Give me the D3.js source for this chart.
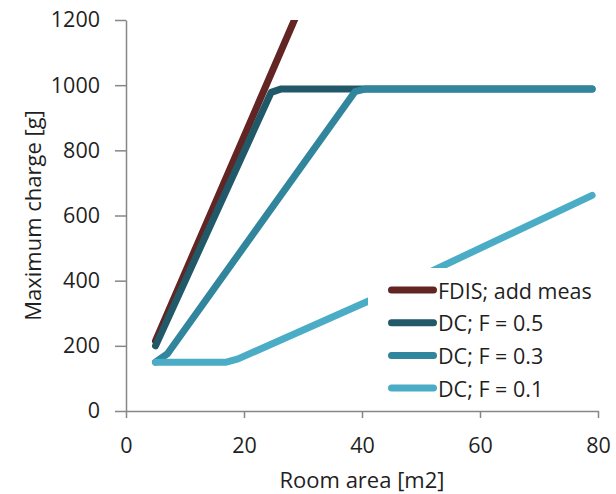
<!DOCTYPE html>
<html>
<head>
<meta charset="utf-8">
<script src="https://cdn.jsdelivr.net/npm/d3@7"></script>
<style>
  body { margin: 0; background: #fff; }
  text { font-family: "Open Sans", sans-serif; fill: #1f1f1f; }
</style>
</head>
<body>
<div id="chart"></div>
<script>
// Series (room area [m2], maximum charge [g])
const seriesNames = ["FDIS; add meas", "DC; F = 0.5", "DC; F = 0.3", "DC; F = 0.1"];
const seriesColors = ["#632523", "#215968", "#31859c", "#4bacc6"];

const fdisX = [5, 29.5];
const fdisY = [215, 1240];
const dc05X = [5, 24.6, 26.2, 79];
const dc05Y = [200, 978, 988, 988];
const dc03X = [5, 7, 38.8, 40.5, 79];
const dc03Y = [150, 175, 980, 988, 988];
const dc01X = [5, 17, 19, 41.4, 79];
const dc01Y = [150, 150, 160, 340, 662];

const xTicks = [0, 20, 40, 60, 80];
const yTicks = [0, 200, 400, 600, 800, 1000, 1200];

const W = 616, H = 494;
const margin = { left: 126, right: 18, top: 20, bottom: 83 };

const svg = d3.select("#chart").append("svg")
  .attr("width", W)
  .attr("height", H);

const x = d3.scaleLinear().domain([0, 80]).range([margin.left, W - margin.right]);
const y = d3.scaleLinear().domain([0, 1200]).range([H - margin.bottom, margin.top]);

// clip lines to the plot area
svg.append("clipPath").attr("id", "plotclip")
  .append("rect")
  .attr("x", margin.left - 10)
  .attr("y", y(1200))
  .attr("width", W - margin.left)
  .attr("height", y(0) - y(1200) + 10);

// axes
const yAxis = svg.append("g")
  .attr("transform", `translate(${x(0)},0)`)
  .call(d3.axisLeft(y).tickValues(yTicks).tickFormat(d3.format("d"))
    .tickSize(11).tickSizeOuter(0).tickPadding(15));
const xAxis = svg.append("g")
  .attr("transform", `translate(0,${y(0)})`)
  .call(d3.axisBottom(x).tickValues(xTicks).tickFormat(d3.format("d"))
    .tickSize(7).tickSizeOuter(0).tickPadding(20));

[xAxis, yAxis].forEach(a => {
  a.selectAll("path, line").attr("stroke", "#868686").attr("stroke-width", 1.5);
  a.selectAll("text")
    .style("font-family", "'Open Sans', sans-serif")
    .style("font-size", "21.5px")
    .attr("fill", "#1f1f1f");
});

// axis titles
svg.append("text")
  .attr("transform", `translate(32,${(y(0) + y(1200)) / 2}) rotate(-90)`)
  .attr("text-anchor", "middle")
  .attr("dominant-baseline", "central")
  .style("font-size", "22px")
  .text("Maximum charge [g]");

svg.append("text")
  .attr("x", (x(0) + x(80)) / 2)
  .attr("y", 479)
  .attr("text-anchor", "middle")
  .attr("dominant-baseline", "central")
  .style("font-size", "22px")
  .text("Room area [m2]");

// lines
const series = [
  { xs: fdisX, ys: fdisY },
  { xs: dc05X, ys: dc05Y },
  { xs: dc03X, ys: dc03Y },
  { xs: dc01X, ys: dc01Y },
];

const line = d3.line()
  .x(d => x(d[0]))
  .y(d => y(d[1]));

const plot = svg.append("g").attr("clip-path", "url(#plotclip)");

// series order as in the sheet: later series sit on top
series.forEach((s, i) => {
  const pts = s.xs.map((v, j) => [v, s.ys[j]]);
  plot.append("path")
    .datum(pts)
    .attr("d", line)
    .attr("fill", "none")
    .attr("stroke", seriesColors[i])
    .attr("stroke-width", 7)
    .attr("stroke-linecap", "round")
    .attr("stroke-linejoin", "round");
});

// legend (white box covers the lines behind it)
const legend = svg.append("g");
legend.append("rect")
  .attr("x", 368)
  .attr("y", 268)
  .attr("width", 244)
  .attr("height", 134)
  .attr("fill", "#fff");

seriesNames.forEach((name, i) => {
  const cy = 290 + i * 32.7;
  legend.append("line")
    .attr("x1", 391.5).attr("x2", 433.5)
    .attr("y1", cy).attr("y2", cy)
    .attr("stroke", seriesColors[i])
    .attr("stroke-width", 7)
    .attr("stroke-linecap", "round");
  legend.append("text")
    .attr("x", 438)
    .attr("y", cy)
    .attr("dominant-baseline", "central")
    .style("font-size", "21.5px")
    .text(name);
});
</script>
</body>
</html>
